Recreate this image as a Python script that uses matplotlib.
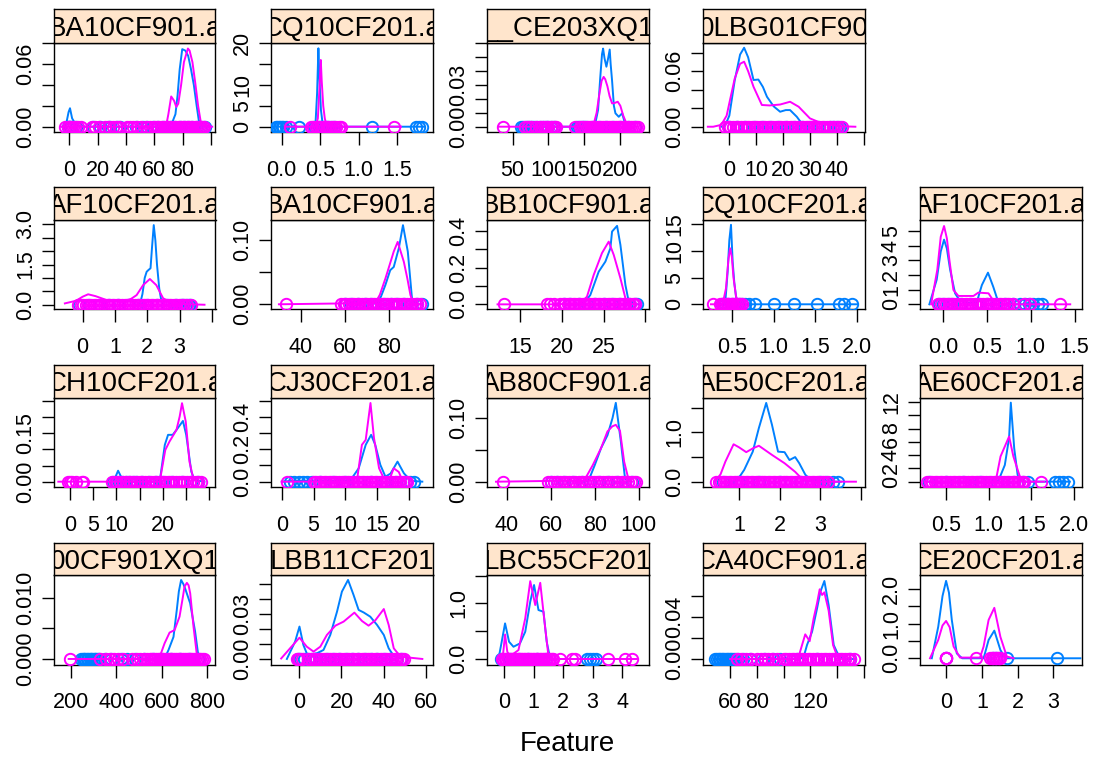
import matplotlib
matplotlib.use("Agg")
import matplotlib.pyplot as plt

plt.rcParams['font.family'] = ['Liberation Sans', 'DejaVu Sans']

BLUE = '#0080ff'
PINK = '#ff00ff'
STRIP_BG = '#ffe5cc'

STRIP_NAMES = ["BA10CF901.a", "CQ10CF201.a", "__CE203XQ1", "0LBG01CF90",
               "AF10CF201.a", "BA10CF901.a", "BB10CF901.a", "CQ10CF201.a", "AF10CF201.a",
               "CH10CF201.a", "CJ30CF201.a", "AB80CF901.a", "AE50CF201.a", "AE60CF201.a",
               "00CF901XQ1", "LBB11CF201", "LBC55CF201", "CA40CF901.a", "CE20CF201.a"]

XLIMS = [(-10.8, 103.3), (-0.139, 1.96), (14.4, 239.2), (-9.8, 50.3),
         (-0.886, 4.11), (26.4, 99.95), (11.04, 30.36), (0.155, 2.088), (-0.267, 1.579),
         (-3.43, 31.3), (-1.69, 23.7), (30.9, 104.5), (0.12, 4.08), (0.199, 2.086),
         (125.4, 836.4), (-13.3, 63.0), (-0.59, 4.9), (39.75, 160.5), (-0.73, 3.79)]
YLIMS = [(-0.0051, 0.0803), (-1.27, 20.07), (-0.0038, 0.0598), (-0.0057, 0.0905),
         (-0.17, 3.16), (-0.0078, 0.131), (-0.027, 0.46), (-0.94, 15.8), (-0.34, 5.75),
         (-0.0174, 0.259), (-0.035, 0.518), (-0.0088, 0.1316), (-0.114, 1.70), (-0.85, 12.6),
         (-0.0009, 0.01368), (-0.0037, 0.056), (-0.099, 1.51), (-0.0052, 0.08), (-0.18, 2.41)]

XTICKS = [[0, 20, 40, 60, 80, 100], [0, 0.5, 1.0, 1.5], [50, 100, 150, 200], [0, 10, 20, 30, 40, 50],
          [0, 1, 2, 3, 4], [40, 60, 80], [15, 20, 25, 30], [0.5, 1.0, 1.5, 2.0], [0, 0.5, 1.0, 1.5],
          [0, 5, 10, 15, 20, 25, 30], [0, 5, 10, 15, 20], [40, 60, 80, 100], [1, 2, 3, 4], [0.5, 1.0, 1.5, 2.0],
          [200, 400, 600, 800], [0, 20, 40, 60], [0, 1, 2, 3, 4], [60, 80, 100, 120, 140, 160], [0, 1, 2, 3]]
XTICKLABELS = [['0', '20', '40', '60', '80', ''], ['0.0', '0.5', '1.0', '1.5'], ['50', '100', '150', '200'],
               ['0', '10', '20', '30', '40', ''],
               ['0', '1', '2', '3', ''], ['40', '60', '80'], ['15', '20', '25', ''], ['0.5', '1.0', '1.5', '2.0'],
               ['0.0', '0.5', '1.0', '1.5'],
               ['0', '5', '10', '', '20', '', ''], ['0', '5', '10', '15', '20'], ['40', '60', '80', '100'],
               ['1', '2', '3', ''], ['0.5', '1.0', '1.5', '2.0'],
               ['200', '400', '600', '800'], ['0', '20', '40', '60'], ['0', '1', '2', '3', '4'],
               ['60', '80', '', '120', '', ''], ['0', '1', '2', '3']]
YTICKS = [[0, 0.02, 0.04, 0.06, 0.08], [0, 5, 10, 15, 20], [0, 0.01, 0.02, 0.03, 0.04, 0.05, 0.06],
          [0, 0.02, 0.04, 0.06, 0.08],
          [0, 0.5, 1.0, 1.5, 2.0, 2.5, 3.0], [0, 0.05, 0.10], [0, 0.1, 0.2, 0.3, 0.4], [0, 5, 10, 15],
          [0, 1, 2, 3, 4, 5],
          [0, 0.05, 0.10, 0.15, 0.20, 0.25], [0, 0.1, 0.2, 0.3, 0.4, 0.5], [0, 0.05, 0.10], [0, 0.5, 1.0, 1.5],
          [0, 2, 4, 6, 8, 10, 12],
          [0, 0.005, 0.010], [0, 0.01, 0.02, 0.03, 0.04, 0.05], [0, 0.5, 1.0, 1.5], [0, 0.02, 0.04, 0.06],
          [0, 0.5, 1.0, 1.5, 2.0]]
YTICKLABELS = [['0.00', '', '', '0.06', ''], ['0', '5', '10', '', '20'], ['0.00', '', '', '0.03', '', '', ''],
               ['0.00', '', '', '0.06', ''],
               ['0.0', '', '', '1.5', '', '', '3.0'], ['0.00', '', '0.10'], ['0.0', '', '0.2', '', '0.4'],
               ['0', '5', '10', '15'], ['0', '1', '2', '3', '4', '5'],
               ['0.00', '', '', '0.15', '', ''], ['0.0', '', '0.2', '', '0.4', ''], ['0.00', '', '0.10'],
               ['0.0', '', '1.0', ''], ['0', '2', '4', '6', '8', '', '12'],
               ['0.000', '', '0.010'], ['0.00', '', '', '0.03', '', ''], ['0.0', '', '1.0', ''],
               ['0.00', '', '0.04', ''], ['0.0', '', '1.0', '', '2.0']]

# density curves (class 1 = blue, class 2 = magenta)
BLUE_X = [
    [-5, -2, -0.5, 0.5, 2, 5, 10, 65, 70, 73, 75, 76.5, 78, 79.8, 82, 84, 86, 88, 90, 91.5, 95, 99],
    [-0.15, 0.40, 0.44, 0.46, 0.477, 0.49, 0.51, 0.53, 0.56, 0.6, 1.85],
    [60, 160, 165, 169, 172, 174.5, 176, 178, 180.6, 183, 185.2, 186.5, 188.5, 191, 193.2, 197.8, 202.5, 205, 208.5, 215],
    [-3, -1.6, 0, 2, 4, 5.5, 7, 9, 10.8, 12.5, 14, 16.5, 18.9, 21, 22.6, 25.1, 27.6, 30],
    [1.5, 1.77, 1.85, 1.92, 1.98, 2.04, 2.1, 2.15, 2.2, 2.25, 2.3, 2.37, 2.44, 2.55, 3.0, 3.1, 3.2, 3.4],
    [72, 74.7, 76.5, 78.5, 80.7, 82.3, 84.6, 86.5, 88.7, 90.6, 92.2, 95],
    [21.5, 22.6, 23.4, 24.4, 25.2, 25.8, 26.0, 26.6, 27.0, 27.6, 28.0, 28.4, 29.2],
    [0.3, 0.42, 0.45, 0.47, 0.49, 0.51, 0.53, 0.55, 0.57, 0.62, 2.0],
    [-0.16, -0.076, -0.03, 0.008, 0.04, 0.077, 0.134, 0.17, 0.25, 0.38, 0.44, 0.51, 0.57, 0.62, 0.66, 1.2],
    [8.9, 9.8, 10.35, 11, 12.1, 19.3, 20.4, 21.1, 22.1, 23.2, 24.3, 25.0, 26.1, 26.8, 28.9],
    [0, 2, 4, 6, 8, 10, 11, 12.1, 13.2, 14.05, 14.7, 15.5, 16.3, 17.1, 18.2, 19.2, 20.3, 22.1],
    [75, 77.2, 80, 82.9, 85.8, 88.1, 89.6, 91.9, 93.8, 95.5],
    [0.87, 1.0, 1.13, 1.34, 1.49, 1.67, 1.81, 1.96, 2.12, 2.24, 2.38, 2.48, 2.63, 2.79, 3.0, 3.5],
    [0.3, 1.1, 1.12, 1.19, 1.24, 1.26, 1.30, 1.34, 1.36, 1.4, 1.95],
    [240, 600, 615, 629.6, 651.5, 666, 675, 685, 695, 702.6, 724.6, 746.5, 761, 775],
    [-5.8, -1.9, 0.15, 2, 3.9, 8.4, 11.5, 14.7, 17.9, 20.2, 23.1, 25.7, 28.1, 30.5, 33.6, 36.8, 40, 42.3, 44.7, 48.7],
    [-0.2, -0.09, 0.024, 0.16, 0.31, 0.53, 0.71, 0.88, 1.01, 1.16, 1.33, 1.44, 1.56, 3.3],
    [49, 112, 115, 117.5, 121.3, 125, 127.5, 130.5, 133.7, 137.5, 141.2, 145, 152.5],
    [-0.40, -0.22, -0.1, 0, 0.08, 0.16, 0.30, 0.45, 1.05, 1.19, 1.35, 1.52, 1.66, 3.76],
]
BLUE_Y = [
    [0, 0.004, 0.014, 0.0177, 0.008, 0.001, 0, 0, 0.001, 0.005, 0.012, 0.030, 0.055, 0.0744, 0.073, 0.068, 0.055, 0.040, 0.020, 0.006, 0, 0],
    [0, 0, 1.0, 8, 18.8, 12, 4, 1, 0.2, 0, 0],
    [0, 0, 0.002, 0.012, 0.035, 0.052, 0.056, 0.049, 0.043, 0.049, 0.0553, 0.045, 0.033, 0.015, 0.0096, 0.0071, 0.0096, 0.005, 0, 0],
    [0, 0.001, 0.012, 0.050, 0.078, 0.0854, 0.075, 0.0505, 0.051, 0.043, 0.0324, 0.022, 0.0162, 0.018, 0.018, 0.0108, 0.001, 0],
    [0, 0, 0.4, 1.0, 1.23, 1.30, 1.36, 2.2, 2.97, 2.4, 1.5, 0.6, 0.11, 0, 0, 0.04, 0, 0],
    [0, 0.002, 0.012, 0.030, 0.053, 0.058, 0.087, 0.123, 0.082, 0.0093, 0, 0],
    [0, 0.003, 0.051, 0.178, 0.233, 0.306, 0.397, 0.428, 0.324, 0.105, 0.014, 0.002, 0],
    [0, 0, 6.1, 12, 14.9, 8.0, 4.0, 1.5, 0.2, 0, 0],
    [0, 1.68, 3.6, 4.41, 3.8, 2.37, 0.75, 0.41, 0.1, 0.1, 1.31, 2.16, 1.2, 0.29, 0, 0],
    [0, 0.015, 0.034, 0.015, 0, 0, 0.114, 0.145, 0.145, 0.166, 0.188, 0.145, 0.031, 0.005, 0],
    [0, 0.005, 0.003, 0.006, 0.004, 0.006, 0.02, 0.083, 0.228, 0.29, 0.228, 0.104, 0.031, 0.05, 0.124, 0.052, 0.005, 0],
    [0, 0.002, 0.026, 0.053, 0.073, 0.1, 0.124, 0.063, 0.005, 0],
    [0, 0.08, 0.24, 0.61, 1.09, 1.6, 1.16, 0.61, 0.60, 0.44, 0.50, 0.375, 0.14, 0.02, 0, 0],
    [0, 0, 0.3, 2.5, 6.6, 11.9, 5.0, 1.0, 0.3, 0, 0],
    [0, 0, 0.0003, 0.00147, 0.0036, 0.008, 0.011, 0.01287, 0.0122, 0.0115, 0.0091, 0.0045, 0.0005, 0],
    [0, 0.0116, 0.0216, 0.0093, 0.0027, 0.0038, 0.006, 0.016, 0.0316, 0.0449, 0.0527, 0.0427, 0.0327, 0.031, 0.0282, 0.0227, 0.016, 0.0071, 0.002, 0],
    [0, 0.31, 0.64, 0.31, 0.22, 0.28, 0.49, 1.03, 1.33, 0.88, 0.85, 0.31, 0, 0],
    [0, 0, 0.002, 0.0133, 0.026, 0.048, 0.064, 0.0743, 0.0514, 0.0133, 0.003, 0, 0],
    [0, 0.91, 1.8, 2.24, 1.9, 1.11, 0.14, 0, 0, 0.53, 0.80, 0.24, 0, 0],
]
PINK_X = [
    [-6, 66, 68.6, 70, 72, 74, 75.6, 77, 79, 81, 83.8, 85, 87, 89, 91, 93.2, 97, 101],
    [0.05, 0.44, 0.47, 0.49, 0.508, 0.52, 0.54, 0.56, 0.58, 0.62, 1.55],
    [30, 160, 163, 167, 171, 174, 176.8, 179, 182, 185, 188.5, 192, 196.4, 200, 204, 208, 211.7, 223],
    [-8, -6, -3, -1, 0.26, 2, 4, 5.5, 7, 9, 12.1, 15, 18.9, 22.6, 25.8, 30, 35, 41.3, 46.9],
    [-0.55, -0.2, 0.0, 0.17, 0.4, 0.74, 1.0, 1.36, 1.5, 1.67, 1.87, 2.08, 2.28, 2.49, 2.8, 3.2, 3.77],
    [30, 73.9, 76, 78.5, 80.5, 82.3, 84.1, 86.9, 88.5, 89.9, 91.4, 95],
    [12.3, 19, 22.2, 23.0, 23.8, 24.8, 25.6, 26.2, 27.0, 27.6, 28.0, 29],
    [0.25, 0.39, 0.43, 0.46, 0.48, 0.50, 0.52, 0.55, 0.58, 0.62],
    [-0.14, -0.069, -0.03, 0.008, 0.04, 0.069, 0.115, 0.172, 0.344, 0.40, 0.516, 0.593, 0.65, 1.45],
    [-2.5, 19.3, 20.5, 21.4, 22.9, 23.6, 24.1, 24.9, 25.7, 26.6, 27.5],
    [0, 11.8, 12.6, 13.2, 13.95, 14.5, 15.3, 16.05, 17.1, 17.6, 18.4, 19.0, 19.5],
    [35, 75.2, 79.1, 82.9, 85.8, 88, 89.6, 91.5, 93.4, 95.3, 97],
    [0.41, 0.55, 0.67, 0.87, 1.0, 1.18, 1.35, 1.49, 1.81, 2.12, 2.38, 2.58, 2.8, 3.87],
    [0.25, 1.05, 1.09, 1.14, 1.19, 1.24, 1.29, 1.36, 1.39, 1.65],
    [190, 580, 590.4, 612.3, 634.2, 656.1, 678.1, 692.8, 700, 710.4, 718, 725, 739.5, 754, 765],
    [-8.5, -4.3, 0.15, 3.6, 6.8, 10, 13.1, 17.1, 21, 26.1, 29.7, 32.8, 36, 40, 42.3, 44.7, 47.9, 58.2],
    [-0.12, -0.05, 0.024, 0.10, 0.19, 0.48, 0.71, 0.88, 1.05, 1.22, 1.39, 1.5, 1.6, 4.5],
    [60, 109, 111.2, 113.8, 116.2, 119.5, 122.5, 125, 127, 128.8, 130.5, 133.7, 137, 140, 143],
    [-0.45, -0.22, -0.1, 0, 0.1, 0.21, 0.39, 0.95, 1.05, 1.19, 1.35, 1.52, 1.7, 1.89],
]
PINK_Y = [
    [0, 0, 0.002, 0.012, 0.029, 0.025, 0.019, 0.022, 0.040, 0.062, 0.075, 0.073, 0.062, 0.042, 0.020, 0.002, 0, 0],
    [0, 0, 2, 9, 16.0, 11, 5, 2, 0.5, 0, 0],
    [0, 0, 0.002, 0.010, 0.024, 0.033, 0.0357, 0.034, 0.029, 0.022, 0.0167, 0.017, 0.0179, 0.015, 0.008, 0.003, 0, 0],
    [0, 0, 0.002, 0.012, 0.029, 0.052, 0.068, 0.0703, 0.060, 0.0432, 0.0235, 0.023, 0.024, 0.027, 0.0216, 0.009, 0.003, 0.0005, 0],
    [0.05, 0.15, 0.30, 0.39, 0.32, 0.175, 0.16, 0.16, 0.22, 0.36, 0.73, 0.96, 0.73, 0.24, 0.05, 0.02, 0.0],
    [0, 0.002, 0.015, 0.040, 0.062, 0.082, 0.097, 0.066, 0.040, 0.0144, 0, 0],
    [0, 0, 0.005, 0.042, 0.16, 0.28, 0.342, 0.27, 0.142, 0.033, 0.003, 0],
    [0, 0, 3.0, 8.5, 10.5, 8.9, 5.0, 1.5, 0, 0],
    [0, 2.37, 4.6, 5.34, 4.5, 3.02, 0.98, 0.57, 0.57, 0.80, 0.75, 0.05, 0, 0],
    [0, 0, 0.098, 0.124, 0.16, 0.202, 0.243, 0.186, 0.062, 0.005, 0],
    [0, 0, 0.228, 0.259, 0.487, 0.27, 0.083, 0.02, 0.03, 0.083, 0.06, 0.005, 0],
    [0, 0.002, 0.026, 0.053, 0.079, 0.087, 0.0894, 0.08, 0.0315, 0.005, 0],
    [0, 0.15, 0.41, 0.76, 0.70, 0.6, 0.68, 0.73, 0.545, 0.375, 0.2, 0.03, 0, 0],
    [0, 0, 0.5, 3.8, 5.3, 6.8, 3.8, 1.0, 0, 0],
    [0, 0, 0.0003, 0.00256, 0.0043, 0.0047, 0.0069, 0.0101, 0.0118, 0.0124, 0.0120, 0.0107, 0.0053, 0.0008, 0],
    [0.0003, 0.0071, 0.0142, 0.0082, 0.0049, 0.0082, 0.016, 0.0222, 0.0249, 0.0309, 0.0253, 0.0222, 0.0258, 0.0333, 0.0227, 0.0071, 0.0015, 0],
    [0, 0.05, 0.44, 0.13, 0.05, 0.16, 0.73, 1.40, 0.97, 1.37, 0.55, 0.05, 0, 0],
    [0, 0, 0.002, 0.0133, 0.0235, 0.017, 0.0388, 0.053, 0.0664, 0.061, 0.0635, 0.046, 0.0133, 0.003, 0],
    [0, 0.53, 0.95, 1.08, 0.9, 0.34, 0.02, 0.02, 0.34, 1.11, 1.46, 0.62, 0.05, 0],
]

# raw observations drawn as open circles on the baseline
BLUE_PTS = [
    [-1, 0, 0.5, 1.2, 5, 17, 22, 27, 29, 34, 36, 47, 52, 55, 59, 63, 66, 69, 72, 75, 78, 81, 84, 87, 90, 93, 96],
    [-0.08, -0.06, -0.04, -0.02, 0.0, 0.02, 0.05, 0.22, 0.42, 0.45, 0.48, 0.51, 0.54, 0.57, 0.6, 0.64, 0.68, 1.17, 1.74, 1.79, 1.83],
    [62, 65, 68, 71, 74, 77, 80, 84, 88, 92, 96, 100, 104, 108, 140, 143, 146, 149, 152, 160, 170, 180, 190, 200, 210, 220],
    [0, 3, 6, 9, 12, 15, 18, 21, 24, 27, 30, 33, 37.5, 38.5, 40, 41.2],
    [-0.1, 0.2, 0.5, 0.8, 1.1, 1.4, 1.7, 2.0, 2.3, 2.6, 2.9, 3.05, 3.12, 3.2, 3.28, 3.33],
    [60, 63, 66, 69, 72, 75, 78, 81, 84, 87, 90, 93, 95],
    [20.2, 21, 22, 23, 24, 25, 26, 27, 28, 28.8, 29.0],
    [0.38, 0.42, 0.46, 0.5, 0.54, 0.58, 0.62, 0.66, 0.70, 0.78, 1.0, 1.24, 1.52, 1.78, 1.84, 1.94],
    [-0.05, 0.0, 0.05, 0.1, 0.2, 0.3, 0.4, 0.5, 0.6, 0.7, 0.8, 0.88, 0.93, 0.98, 1.03, 1.08, 1.13],
    [9.3, 10, 10.6, 11.2, 12, 12.8, 13.6, 14.3, 15.5, 17, 18.5, 20, 22, 24, 26, 27.5],
    [1.3, 2.0, 2.7, 3.4, 4.0, 4.7, 6, 8, 10, 12, 14, 16, 18, 19.5, 20.2, 20.8],
    [60, 63, 66, 70, 74, 78, 82, 86, 90, 94, 97],
    [0.6, 1.0, 1.5, 2.0, 2.5, 3.0, 3.13, 3.3, 3.44],
    [0.3, 0.5, 0.7, 0.9, 1.1, 1.3, 1.4, 1.46, 1.78, 1.82, 1.87, 1.93],
    [246, 252, 258, 264, 270, 276, 282, 288, 294, 300, 306, 312, 318, 325, 350, 378, 420, 445, 480, 520, 560, 600, 640, 680, 720, 760],
    [-0.5, 0.5, 2.5, 4, 6, 8, 10, 13, 16, 19, 22, 25, 28, 31, 34, 37, 40, 43, 46, 48],
    [-0.1, 0.2, 0.5, 0.8, 1.1, 1.4, 2.8, 2.9, 3.0, 3.1],
    [49, 50.2, 51.4, 52.6, 53.8, 55.0, 56.2, 57.4, 58.6, 59.8, 61.0, 62.2, 63.7, 66, 70, 75, 85, 92, 97, 110, 125, 140, 150],
    [0, 1.3, 1.4, 1.7, 3.1],
]
PINK_PTS = [
    [-3, -1, 0, 1, 2.5, 4, 6, 8.5, 16, 18, 21, 25, 28, 31, 33, 35, 41, 43, 45, 48, 51, 54, 57, 60, 61.5, 63, 64.5, 66, 67.5, 69, 70.5, 72, 73.5, 75, 76.5, 78, 79.5, 81, 82.5, 84, 85.5, 87, 88.5, 90, 91.5, 93, 94.5, 95.5],
    [0.11, 0.38, 0.41, 0.44, 0.47, 0.5, 0.53, 0.56, 0.59, 0.62, 0.65, 0.68, 0.71, 0.74, 0.77, 1.465],
    [37, 67, 71, 76, 82, 88, 91, 94, 97, 100, 103, 106, 109, 111, 137, 144, 147, 150, 153, 156, 159, 162, 165, 168, 171, 174, 177, 180, 183, 186, 189, 192, 195, 198, 201, 204, 207, 210, 213, 216, 219, 222, 225],
    [-1.6, -0.6, 0.4, 1.4, 2.4, 3.4, 4.4, 5.4, 6.4, 7.4, 8.4, 9.4, 10.4, 11.4, 12.4, 13.4, 14.4, 15.4, 16.4, 17.4, 18.4, 19.4, 20.4, 21.4, 22.4, 23.4, 24.4, 25.4, 26.4, 27.4, 28.4, 29.4, 30.4, 31.4, 32.4, 33.4, 34.4, 35.4, 36.4, 37.4, 38.4, 39.4, 40.4, 41.8],
    [-0.14, -0.06, 0.02, 0.1, 0.18, 0.26, 0.34, 0.42, 0.5, 0.58, 0.66, 0.74, 0.82, 0.9, 0.98, 1.06, 1.14, 1.22, 1.3, 1.38, 1.46, 1.54, 1.62, 1.7, 1.78, 1.86, 1.94, 2.02, 2.1, 2.18, 2.26, 2.34, 2.42, 2.5, 2.58, 2.66, 2.74, 2.82, 2.9, 2.98, 3.06, 3.14, 3.22, 3.36],
    [33.2, 58.3, 59.5, 60.7, 61.9, 63.1, 64.3, 65.5, 66.7, 67.9, 69.1, 70.3, 71.5, 72.7, 73.9, 75.1, 76.3, 77.5, 78.7, 79.9, 81.1, 82.3, 83.5, 84.7, 85.9, 87.1, 88.3, 89.5, 90.7, 91.9, 93.1, 94.3],
    [13.1, 18.2, 18.6, 19.0, 19.8, 20.1, 20.4, 20.7, 21.0, 21.3, 21.6, 21.9, 22.2, 22.5, 22.8, 23.1, 23.4, 23.7, 24.0, 24.3, 24.6, 24.9, 25.2, 25.5, 25.8, 26.1, 26.4, 26.7, 27.0, 27.3, 27.6, 27.9, 28.2, 28.5, 28.8],
    [0.28, 0.36, 0.38, 0.40, 0.42, 0.44, 0.46, 0.48, 0.50, 0.52, 0.54, 0.56, 0.58, 0.60, 0.62],
    [-0.057, -0.027, 0.003, 0.033, 0.063, 0.093, 0.123, 0.153, 0.183, 0.213, 0.243, 0.273, 0.303, 0.333, 0.363, 0.393, 0.423, 0.453, 0.483, 0.513, 0.543, 0.573, 0.603, 0.633, 0.663, 0.693, 0.723, 0.75, 0.80, 0.92, 0.99, 1.33],
    [-0.36, 0.0, 0.4, 1.3, 2.5, 2.9, 9.0, 9.6, 10.2, 10.8, 11.4, 12.0, 12.6, 13.2, 13.8, 14.4, 15.0, 15.6, 16.2, 16.8, 17.4, 18.0, 18.6, 19.2, 19.8, 20.4, 21.0, 21.6, 22.2, 22.8, 23.4, 24.0, 24.6, 25.2, 25.8, 26.4, 27.0, 27.6, 28.2],
    [0.8, 5.0, 5.4, 5.8, 6.2, 6.6, 7.0, 7.4, 7.8, 8.2, 8.6, 9.0, 9.4, 9.8, 10.2, 10.6, 11.0, 11.4, 11.8, 12.2, 12.6, 13.0, 13.4, 13.8, 14.2, 14.6, 15.0, 15.4, 15.8, 16.2, 16.6, 17.0, 17.4, 17.8, 18.2, 18.6, 19.0, 19.4, 19.7],
    [38.1, 58.6, 60.0, 61.4, 62.8, 64.2, 65.6, 67.0, 68.4, 69.8, 71.2, 72.6, 74.0, 75.4, 76.8, 78.2, 79.6, 81.0, 82.4, 83.8, 85.2, 86.6, 88.0, 89.4, 90.8, 92.2, 93.6, 95.0, 96.4, 97.8, 98.6],
    [0.45, 0.51, 0.57, 0.63, 0.69, 0.75, 0.81, 0.87, 0.93, 0.99, 1.05, 1.11, 1.17, 1.23, 1.29, 1.35, 1.41, 1.47, 1.53, 1.59, 1.65, 1.71, 1.77, 1.83, 1.89, 1.95, 2.01, 2.07, 2.13, 2.19, 2.25, 2.31, 2.37, 2.43, 2.49, 2.55, 2.61, 2.67, 2.73, 2.79, 2.85, 2.91, 2.97, 3.03, 3.09, 3.18],
    [0.28, 0.31, 0.34, 0.37, 0.40, 0.43, 0.46, 0.49, 0.52, 0.55, 0.58, 0.61, 0.64, 0.67, 0.70, 0.73, 0.76, 0.79, 0.82, 0.85, 0.88, 0.91, 0.94, 0.97, 1.00, 1.03, 1.06, 1.09, 1.12, 1.15, 1.18, 1.21, 1.24, 1.27, 1.30, 1.33, 1.36, 1.39, 1.41, 1.61],
    [198, 330, 355, 372, 390, 405, 430, 470, 490, 505, 520, 535, 546, 554, 562, 570, 578, 586, 594, 602, 610, 618, 626, 634, 642, 650, 658, 666, 674, 682, 690, 698, 706, 714, 722, 730, 738, 746, 754, 762, 770, 778, 787],
    [-1.1, 0.0, 1.3, 4.4, 5.6, 6.8, 8.0, 9.2, 10.4, 11.6, 12.8, 14.0, 15.2, 16.4, 17.6, 18.8, 20.0, 21.2, 22.4, 23.6, 24.8, 26.0, 27.2, 28.4, 29.6, 30.8, 32.0, 33.2, 34.4, 35.6, 36.8, 38.0, 39.2, 40.4, 41.6, 42.8, 44.0, 45.2, 46.4, 47.6, 48.8, 49.4],
    [-0.09, -0.04, 0.01, 0.06, 0.11, 0.16, 0.21, 0.26, 0.31, 0.36, 0.41, 0.46, 0.51, 0.56, 0.61, 0.66, 0.71, 0.76, 0.81, 0.86, 0.91, 0.96, 1.01, 1.06, 1.11, 1.16, 1.21, 1.26, 1.31, 1.36, 1.41, 1.46, 1.51, 1.56, 1.61, 1.67, 1.9, 2.3, 2.41, 3.54, 4.1, 4.34],
    [65, 68, 72, 76, 80, 83, 86, 88, 91, 95, 100, 102, 104, 106, 108, 110, 112, 114, 116, 118, 120, 122, 124, 126, 128, 130, 132, 134, 136, 138, 140, 142, 144, 146, 148, 150, 152.5],
    [-0.01, 0.0, 0.01, 0.84, 1.24, 1.28, 1.32, 1.36, 1.40, 1.44, 1.48, 1.52],
]

# ---------------- layout (pixels) ----------------
W, H = 1098, 762
COL_LEFT = [54, 271, 487, 703, 920]
PANEL_W = 161.5
STRIP_TOP = [9, 187, 365, 543]
PLOT_TOP = [43, 220, 398, 575]
PLOT_BOT = [132, 309.3, 487.3, 664.5]

fig = plt.figure(figsize=(W / 100, H / 100), dpi=100)

for k in range(19):
    if k < 4:
        r, c = 0, k
    else:
        r, c = 1 + (k - 4) // 5, (k - 4) % 5
    l = COL_LEFT[c]
    ax = fig.add_axes([l / W, 1 - PLOT_BOT[r] / H, PANEL_W / W, (PLOT_BOT[r] - PLOT_TOP[r]) / H])
    sax = fig.add_axes([l / W, 1 - PLOT_TOP[r] / H, PANEL_W / W, (PLOT_TOP[r] - STRIP_TOP[r]) / H])

    # strip
    sax.set_facecolor(STRIP_BG)
    sax.set_xticks([])
    sax.set_yticks([])
    for sp in sax.spines.values():
        sp.set_linewidth(1.0)
    sax.text(0.5, 0.2, STRIP_NAMES[k], ha='center', va='baseline', fontsize=20,
             transform=sax.transAxes, clip_on=True)

    # density curves and points
    ax.plot(BLUE_X[k], BLUE_Y[k], color=BLUE, lw=1.4, zorder=2)
    ax.plot(BLUE_PTS[k], [0] * len(BLUE_PTS[k]), 'o', mfc='none', mec=BLUE,
            ms=8.2, mew=1.4, zorder=3)
    ax.plot(PINK_X[k], PINK_Y[k], color=PINK, lw=1.4, zorder=4)
    ax.plot(PINK_PTS[k], [0] * len(PINK_PTS[k]), 'o', mfc='none', mec=PINK,
            ms=8.2, mew=1.4, zorder=5)

    ax.set_xlim(*XLIMS[k])
    ax.set_ylim(*YLIMS[k])
    ax.set_xticks(XTICKS[k])
    ax.set_xticklabels(XTICKLABELS[k])
    ax.set_yticks(YTICKS[k])
    ax.set_yticklabels(YTICKLABELS[k], rotation=90, va='center')
    ax.tick_params(axis='both', direction='out', length=9, width=1.0, labelsize=15.5,
                   top=False, right=False)
    ax.tick_params(axis='x', pad=11)
    ax.tick_params(axis='y', pad=4)
    for sp in ax.spines.values():
        sp.set_linewidth(1.0)

fig.text(567 / W, 1 - 744 / H, 'Feature', ha='center', va='center', fontsize=20)

fig.savefig('out.png', dpi=100)
